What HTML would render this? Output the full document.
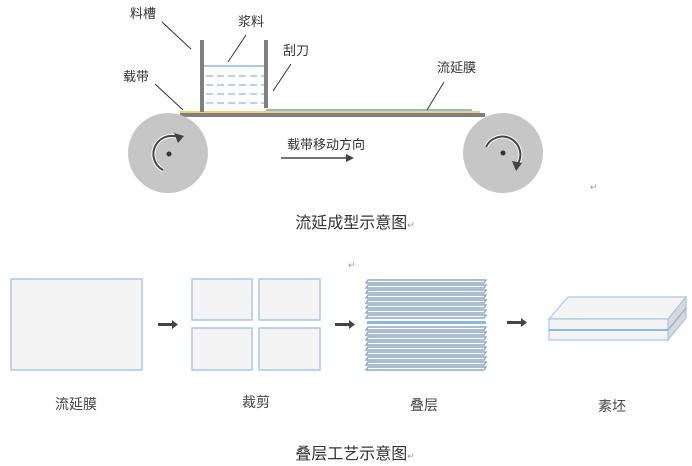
<!DOCTYPE html>
<html><head><meta charset="utf-8"><style>
body{margin:0;background:#fff;}
svg{display:block;font-family:"Liberation Sans","Noto Sans CJK SC",sans-serif;}
</style></head><body>
<svg width="692" height="466" viewBox="0 0 692 466">
<defs>
<marker id="ah" markerWidth="8" markerHeight="8" refX="6" refY="4" orient="auto" markerUnits="userSpaceOnUse"><path d="M0,0 L8,4 L0,8 z" fill="#444"/></marker>
</defs>
<!-- belt -->
<rect x="180" y="113" width="305" height="4" fill="#7f7f7f"/>
<rect x="180" y="111" width="300" height="2" fill="#f2cf72"/>
<rect x="266" y="109" width="206" height="2" fill="#8db8e2"/>
<!-- rollers -->
<circle cx="168" cy="153" r="40" fill="#c6c6c6"/>
<circle cx="503" cy="153" r="40" fill="#c6c6c6"/>
<circle cx="169" cy="154" r="2.5" fill="#333"/>
<circle cx="503" cy="153" r="2.5" fill="#333"/>
<path d="M180,138 A18,18 0 1 0 163,170" fill="none" stroke="#fff" stroke-width="4"/>
<path d="M180,138 A18,18 0 1 0 163,170" fill="none" stroke="#444" stroke-width="2"/>
<path d="M174,133 L184,136 L178,143 z" fill="#444"/>
<path d="M486,147 A18,18 0 1 1 517,165" fill="none" stroke="#fff" stroke-width="4"/>
<path d="M486,147 A18,18 0 1 1 517,165" fill="none" stroke="#444" stroke-width="2"/>
<path d="M512,161 L522,163 L516,171 z" fill="#444"/>
<!-- tank -->
<line x1="204" y1="66" x2="264" y2="66" stroke="#8db8e2" stroke-width="1.5"/>
<g stroke="#8db8e2" stroke-width="1.2" stroke-dasharray="7,4">
<line x1="206" y1="76" x2="264" y2="76"/><line x1="206" y1="85" x2="264" y2="85"/>
<line x1="206" y1="94" x2="264" y2="94"/><line x1="206" y1="103" x2="264" y2="103"/>
</g>
<rect x="200" y="40" width="4" height="72" fill="#7f7f7f"/>
<rect x="264" y="40" width="4" height="68" fill="#7f7f7f"/>
<!-- leaders -->
<g stroke="#333" stroke-width="1">
<line x1="162" y1="22" x2="191" y2="49"/>
<line x1="246" y1="35" x2="228" y2="62"/>
<line x1="291" y1="64" x2="273" y2="91"/>
<line x1="155" y1="84" x2="183" y2="110"/>
<line x1="444" y1="82" x2="427" y2="110"/>
</g>
<g font-size="13" fill="#333">
<text x="130" y="18">料槽</text>
<text x="238" y="26">浆料</text>
<text x="283" y="55">刮刀</text>
<text x="123" y="81">载带</text>
<text x="437" y="72">流延膜</text>
<text x="287" y="149">载带移动方向</text>
</g>
<line x1="281" y1="158" x2="352" y2="158" stroke="#444" stroke-width="1.5" marker-end="url(#ah)"/>
<text x="590" y="190" font-size="9" fill="#999">↵</text>
<text x="355" y="228" font-size="16" fill="#333" text-anchor="middle">流延成型示意图<tspan font-size="9" fill="#999">↵</tspan></text>
<text x="348" y="268" font-size="9" fill="#999">↵</text>
<!-- bottom -->
<g fill="#f4f4f4" stroke="#a9c8e8" stroke-width="1.5">
<rect x="11" y="279" width="131" height="91"/>
<rect x="192" y="279" width="60" height="41"/>
<rect x="259" y="279" width="61" height="41"/>
<rect x="192" y="328" width="60" height="42"/>
<rect x="259" y="328" width="61" height="42"/>
</g>
<g fill="#444">
<path d="M158,323 h14 v-3 l6,4.5 l-6,4.5 v-3 h-14z"/>
<path d="M335,323 h14 v-3 l6,4.5 l-6,4.5 v-3 h-14z"/>
<path d="M507,321 h14 v-3 l6,4.5 l-6,4.5 v-3 h-14z"/>
</g>
<!-- stack -->
<g>
<rect x="366" y="278" width="121" height="92" fill="#fff"/>
<g id="stk" fill="#fff" stroke="#8ea8c4" stroke-width="1.4">
<path d="M368,280 h118 l-2,3 h-118z"/><path d="M368,285 h118 l-2,3 h-118z"/>
<path d="M368,290 h118 l-2,3 h-118z"/><path d="M368,295 h118 l-2,3 h-118z"/>
<path d="M368,300 h118 l-2,3 h-118z"/><path d="M368,305 h118 l-2,3 h-118z"/>
<path d="M368,310 h118 l-2,3 h-118z"/><path d="M368,315 h118 l-2,3 h-118z"/>
<path d="M368,327 h118 l-2,3 h-118z"/><path d="M368,332 h118 l-2,3 h-118z"/>
<path d="M368,337 h118 l-2,3 h-118z"/><path d="M368,342 h118 l-2,3 h-118z"/>
<path d="M368,347 h118 l-2,3 h-118z"/><path d="M368,352 h118 l-2,3 h-118z"/>
<path d="M368,357 h118 l-2,3 h-118z"/><path d="M368,362 h118 l-2,3 h-118z"/>
<path d="M368,367 h118 l-2,3 h-118z"/>
</g>
<rect x="367" y="321" width="119" height="3" fill="#8db8e2"/>
</g>
<!-- block -->
<path d="M549,319 L568,297 L686,297 L668,319z" fill="#f4f4f4" stroke="#a9c8e8" stroke-width="1.2"/>
<path d="M668,319 L686,297 L686,318 L668,340z" fill="#d9d9d9" stroke="#a9c8e8" stroke-width="1.2"/>
<line x1="668" y1="330" x2="686" y2="308" stroke="#8db8e2" stroke-width="1.5"/>
<rect x="549" y="319" width="119" height="21" fill="#f4f4f4" stroke="#a9c8e8" stroke-width="1.2"/>
<line x1="549" y1="330" x2="668" y2="330" stroke="#8db8e2" stroke-width="2"/>
<g font-size="14" fill="#444" text-anchor="middle">
<text x="76" y="409">流延膜</text>
<text x="256" y="407">裁剪</text>
<text x="424" y="410">叠层</text>
<text x="612" y="411">素坯</text>
</g>
<text x="355" y="459" font-size="16" fill="#333" text-anchor="middle">叠层工艺示意图<tspan font-size="9" fill="#999">↵</tspan></text>
</svg>
</body></html>
